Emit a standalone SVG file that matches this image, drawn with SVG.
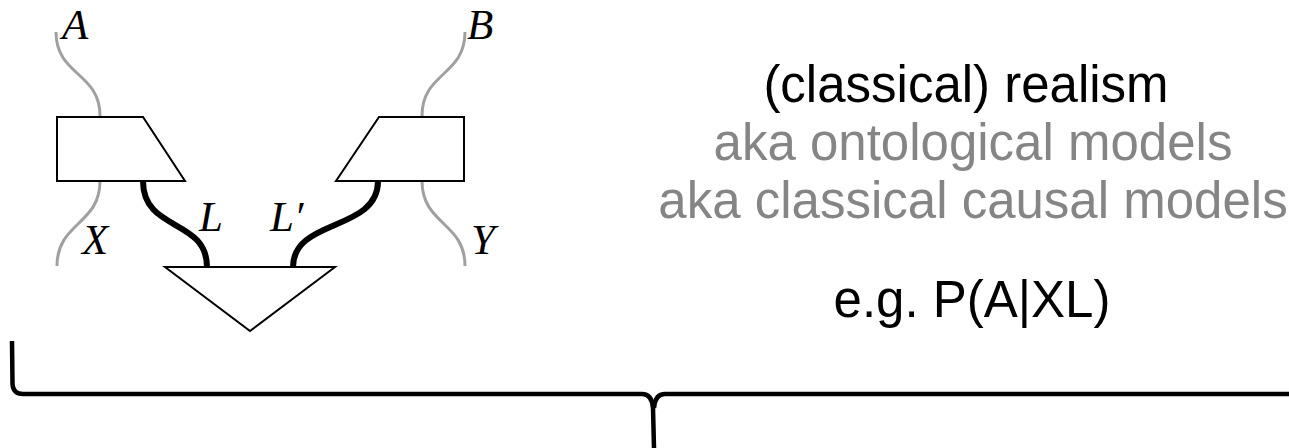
<svg xmlns="http://www.w3.org/2000/svg" width="1289" height="448" viewBox="0 0 1289 448">
  <style>
    .box { fill: #ffffff; stroke: #000000; stroke-width: 2; stroke-linejoin: miter; }
    .sys { fill: none; stroke: #a0a0a0; stroke-width: 3; stroke-linecap: butt; }
    .lat { fill: none; stroke: #000000; stroke-width: 6; stroke-linecap: butt; }
    .var { font-family: "Liberation Serif", "Times New Roman", serif; font-style: italic; font-size: 43px; fill: #000000; }
    .head { font-family: "Liberation Sans", Arial, sans-serif; font-size: 51px; text-anchor: middle; }
    .black { fill: #000000; }
    .grey { fill: #858585; }
    .brace { fill: none; stroke: #000000; stroke-width: 4.5; stroke-linejoin: round; }
  </style>

  <!-- wires between the boxes -->
  <g id="connectors">
    <path id="wire-a" class="sys" d="M56,32 C56,76 100,72 100,116"/>
    <path id="wire-x" class="sys" d="M100,181 C100,225 57,222 57,266"/>
    <path id="wire-b" class="sys" d="M465,32 C465,76 422,72 422,116"/>
    <path id="wire-y" class="sys" d="M422,181 C422,225 465,222 465,266"/>
    <path id="wire-l" class="lat" d="M143,181 C143,232 207,218 207,267"/>
    <path id="wire-l2" class="lat" d="M378,181 C378,232 293,218 293,267"/>
  </g>

  <!-- left measurement box -->
  <g id="box-left">
    <polygon class="box" points="57,117 143,117 185,181 57,181"/>
  </g>

  <!-- right measurement box -->
  <g id="box-right">
    <polygon class="box" points="379,117 464,117 464,181 336,181"/>
  </g>

  <!-- common source -->
  <g id="source">
    <polygon class="box" points="165,267 335,267 250,331"/>
  </g>

  <!-- wire labels -->
  <g id="labels">
    <text class="var" x="62" y="39">A</text>
    <text class="var" x="467" y="39">B</text>
    <text class="var" x="82" y="254">X</text>
    <text class="var" x="471" y="254">Y</text>
    <text class="var" x="199" y="231">L</text>
    <text class="var" x="270" y="231">L′</text>
  </g>

  <!-- description -->
  <g id="caption">
    <text class="head black" x="966" y="102">(classical) realism</text>
    <text class="head grey" x="973" y="160">aka ontological models</text>
    <text class="head grey" x="973" y="218">aka classical causal models</text>
    <text class="head black" x="972" y="317">e.g. P(A|XL)</text>
  </g>

  <!-- underbrace -->
  <g id="brace">
    <path class="brace" d="M12,341 L12.5,384 Q13,394 23,394 L642,394 Q652,394 653,408 L654,448"/>
    <path class="brace" d="M654,408 Q655,394 665,394 L1289,394"/>
  </g>
</svg>
